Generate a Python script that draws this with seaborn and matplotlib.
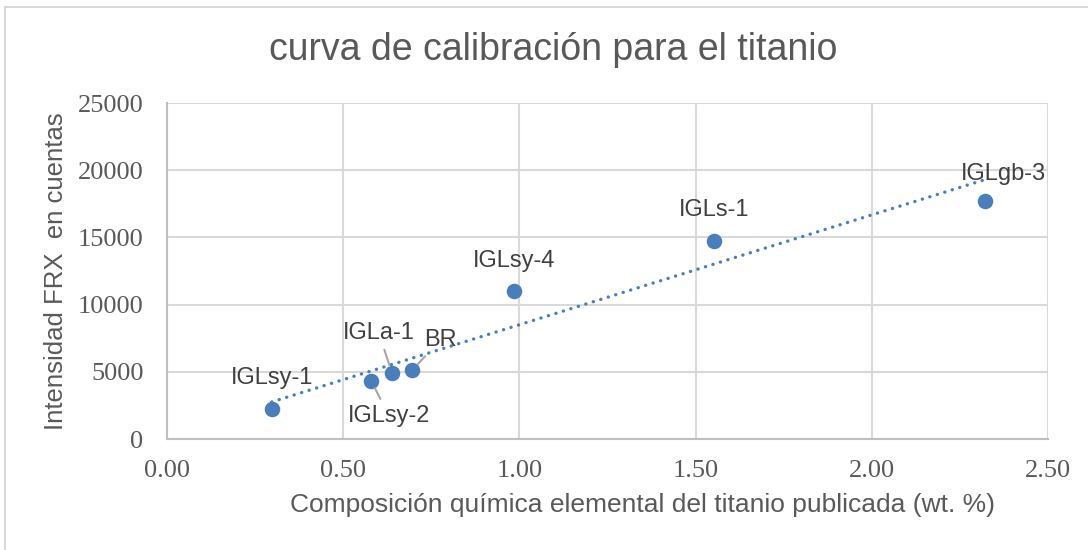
#!/usr/bin/env python3
# -*- coding: utf-8 -*-
"""
Curva de calibración para el titanio (FRX vs composición publicada)
"""

import numpy as np
import pandas as pd
import matplotlib
matplotlib.use("Agg")
import matplotlib.pyplot as plt
import seaborn as sns
from matplotlib.patches import Rectangle

# ========= DATA ==========
samples = ["IGLsy-1", "IGLsy-2", "IGLa-1", "BR", "IGLsy-4", "IGLs-1", "IGLgb-3"]
ti_wt = [0.297, 0.579, 0.638, 0.696, 0.985, 1.552, 2.32]
frx_counts = [2210, 4340, 4930, 5130, 11010, 14730, 17710]

x_ticks = [0.0, 0.5, 1.0, 1.5, 2.0, 2.5]
y_ticks = [0, 5000, 10000, 15000, 20000, 25000]

# label offsets in pixels (dx, dy) and whether a leader line is drawn
label_offsets = {
    "IGLsy-1": (0, 31, False),
    "IGLsy-2": (18, -35, True),
    "IGLa-1": (-13, 40, True),
    "BR": (28, 30, True),
    "IGLsy-4": (0, 30, False),
    "IGLs-1": (0, 31, False),
    "IGLgb-3": (19, 27, False),
}

# ========= STYLE ==========
BLUE = "#4a7ebb"
GRID = "#d9d9d9"
TXT = "#595959"

sns.set_theme(style="white")
plt.rcParams["font.family"] = ["Liberation Sans", "DejaVu Sans"]

df = pd.DataFrame({"muestra": samples, "ti": ti_wt, "frx": frx_counts})

fig = plt.figure(figsize=(10.88, 5.5), dpi=100)
ax = fig.add_axes([167 / 1088, 1 - 439 / 550, (1048 - 167) / 1088, (439 - 103) / 550])

# trend line (linear fit) then points
sns.regplot(data=df, x="ti", y="frx", ax=ax, scatter=False, ci=None, truncate=True,
            line_kws=dict(color=BLUE, lw=2.4, ls=(0, (0.05, 2.3)), dash_capstyle="round"))
sns.scatterplot(data=df, x="ti", y="frx", ax=ax, s=125, color=BLUE, edgecolor=BLUE,
                linewidth=0, zorder=5)

for name, xv, yv in zip(samples, ti_wt, frx_counts):
    dx, dy, leader = label_offsets[name]
    ax.annotate(name, (xv, yv), xytext=(dx, dy), textcoords="offset pixels",
                ha="center", va="center", fontsize=17, color="#404040",
                arrowprops=dict(arrowstyle="-", color="#a6a6a6", lw=1.5,
                                shrinkA=2, shrinkB=6) if leader else None,
                zorder=6)

ax.set_xlim(0, 2.5)
ax.set_ylim(0, 25000)
ax.set_xticks(x_ticks)
ax.set_yticks(y_ticks)
ax.set_xticklabels([f"{v:.2f}" for v in x_ticks], family=["Liberation Serif"], fontsize=19, color=TXT)
ax.set_yticklabels([str(v) for v in y_ticks], family=["Liberation Serif"], fontsize=19, color=TXT)
ax.tick_params(axis="both", length=0)
ax.tick_params(axis="y", pad=17)
ax.tick_params(axis="x", pad=15)

ax.grid(True, color=GRID, lw=1.5)
ax.set_axisbelow(True)
for s in ["top", "right"]:
    ax.spines[s].set_visible(False)
for s in ["left", "bottom"]:
    ax.spines[s].set_color("#bfbfbf")
    ax.spines[s].set_linewidth(1.5)

ax.set_xlabel("Composición química elemental del titanio publicada (wt. %)", fontsize=19, color=TXT, labelpad=7)
ax.set_ylabel("Intensidad FRX  en cuentas", fontsize=18.5, color=TXT, labelpad=7)
# x title sits a little right of the plot centre, as in the original chart
ax.xaxis.set_label_coords((643 - 167) / (1048 - 167), -0.16)
fig.text(553 / 1088, 1 - 50 / 550, "curva de calibración para el titanio", fontsize=27,
         color=TXT, ha="center", va="center")

# outer chart frame
fig.patches.append(Rectangle((5 / 1088, -0.05), 1.1, 1 - 7 / 550 + 0.05, transform=fig.transFigure,
                             fill=False, edgecolor=GRID, lw=1.5))

plt.savefig("out.png", dpi=100)
